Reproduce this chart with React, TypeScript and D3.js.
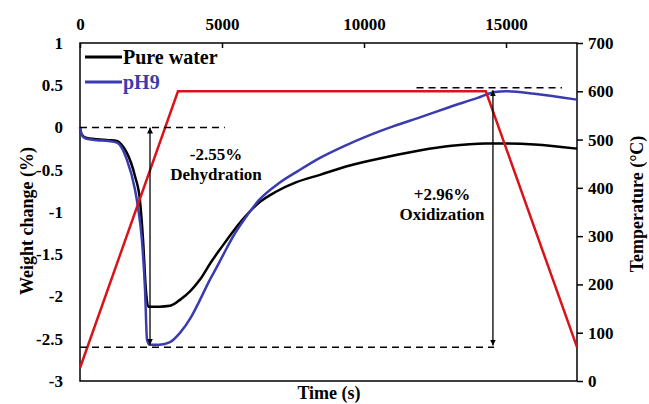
import React, { useEffect, useRef } from 'react'
import * as d3 from 'd3'

// Pure water TGA curve (time in s, weight change in %)
const pureTime = [0, 60, 200, 600, 1000, 1300, 1500, 1650, 1800, 1940, 2110, 2220, 2320, 2400, 2800, 3170, 3520, 3900, 4225, 4600, 5000, 5390, 5800, 6340, 6900, 7600, 8450, 9500, 10800, 12000, 13000, 14290, 15000, 16000, 17500]
const pureWeight = [0, -0.08, -0.12, -0.14, -0.15, -0.16, -0.22, -0.3, -0.42, -0.58, -0.86, -1.33, -1.92, -2.12, -2.12, -2.11, -2.04, -1.93, -1.8, -1.6, -1.41, -1.23, -1.06, -0.88, -0.76, -0.65, -0.56, -0.45, -0.35, -0.27, -0.22, -0.19, -0.19, -0.2, -0.25]

// pH9 curve
const ph9Time = [0, 60, 200, 600, 1000, 1300, 1650, 1940, 2040, 2180, 2290, 2360, 2440, 2800, 3170, 3520, 3900, 4225, 4500, 4820, 5100, 5390, 5800, 6300, 7000, 7700, 8450, 9300, 10200, 11000, 11970, 13000, 14000, 14600, 15000, 16000, 17500]
const ph9Weight = [0, -0.09, -0.13, -0.15, -0.16, -0.18, -0.38, -0.74, -0.94, -1.33, -1.92, -2.51, -2.57, -2.57, -2.54, -2.43, -2.25, -2.04, -1.85, -1.65, -1.47, -1.29, -1.08, -0.86, -0.66, -0.51, -0.36, -0.22, -0.09, 0.01, 0.12, 0.24, 0.35, 0.42, 0.43, 0.4, 0.33]

// temperature program
const tempTime = [0, 3450, 14290, 17500]
const tempValue = [27, 600, 600, 70]

const xTicks = [0, 5000, 10000, 15000]
const leftTicks = [1, 0.5, 0, -0.5, -1, -1.5, -2, -2.5, -3]
const rightTicks = [0, 100, 200, 300, 400, 500, 600, 700]

const seriesNames = ['Pure water', 'pH9']
const seriesColors = ['#000000', '#3b3bb0']
const tempColor = '#d8141a'

const FONT = '"Liberation Serif", "DejaVu Serif", "Times New Roman", serif'

const App = () => {
  const ref = useRef<SVGSVGElement>(null)

  useEffect(() => {
    const W = 649, H = 404
    const m = { top: 43, right: 72, bottom: 23, left: 80 }
    const svg = d3.select(ref.current)
    svg.selectAll('*').remove()

    const x = d3.scaleLinear().domain([0, 17500]).range([m.left, W - m.right])
    const yL = d3.scaleLinear().domain([-3, 1]).range([H - m.bottom, m.top])
    const yR = d3.scaleLinear().domain([0, 700]).range([H - m.bottom, m.top])

    // arrow markers
    const defs = svg.append('defs')
    defs.append('marker')
      .attr('id', 'arr')
      .attr('viewBox', '0 0 10 10')
      .attr('refX', 10).attr('refY', 5)
      .attr('markerWidth', 6).attr('markerHeight', 6)
      .attr('markerUnits', 'userSpaceOnUse')
      .attr('orient', 'auto-start-reverse')
      .append('path').attr('d', 'M0,0 L10,5 L0,10 Z').attr('fill', '#000')

    // frame
    svg.append('rect')
      .attr('x', m.left).attr('y', m.top)
      .attr('width', W - m.left - m.right).attr('height', H - m.top - m.bottom)
      .attr('fill', 'none').attr('stroke', '#000').attr('stroke-width', 1.5)

    // top x axis
    const gx = svg.append('g')
      .attr('transform', `translate(0,${m.top})`)
      .call(d3.axisTop(x).tickValues(xTicks).tickSize(-5).tickPadding(13).tickFormat(d => String(d)))
    // left axis (no tick marks)
    const gl = svg.append('g')
      .attr('transform', `translate(${m.left},0)`)
      .call(d3.axisLeft(yL).tickValues(leftTicks).tickSize(0).tickPadding(17).tickFormat(d => String(d)))
    // right axis
    const gr = svg.append('g')
      .attr('transform', `translate(${W - m.right},0)`)
      .call(d3.axisRight(yR).tickValues(rightTicks).tickSize(6).tickPadding(5).tickFormat(d => String(d)))

    ;[gx, gl, gr].forEach(g => {
      g.attr('font-family', null).attr('font-size', null)
      g.select('.domain').remove()
      g.selectAll('line').attr('stroke', '#000').attr('stroke-width', 1.5)
      g.selectAll('text')
        .style('font-family', FONT)
        .style('font-weight', 'bold')
        .style('font-size', '17px')
        .attr('fill', '#000')
    })

    // curves
    const line = d3.line<[number, number]>()
      .x(d => x(d[0])).y(d => yL(d[1]))
      .curve(d3.curveMonotoneX)

    const pure = pureTime.map((t, i) => [t, pureWeight[i]] as [number, number])
    const ph9 = ph9Time.map((t, i) => [t, ph9Weight[i]] as [number, number])

    svg.append('path').datum(pure)
      .attr('d', line).attr('fill', 'none')
      .attr('stroke', seriesColors[0]).attr('stroke-width', 2.5)
    svg.append('path').datum(ph9)
      .attr('d', line).attr('fill', 'none')
      .attr('stroke', seriesColors[1]).attr('stroke-width', 2.5)

    const tLine = d3.line<[number, number]>().x(d => x(d[0])).y(d => yR(d[1]))
    svg.append('path')
      .datum(tempTime.map((t, i) => [t, tempValue[i]] as [number, number]))
      .attr('d', tLine).attr('fill', 'none')
      .attr('stroke', tempColor).attr('stroke-width', 2.5)

    // annotations
    const dash = (t0: number, t1: number, w: number) =>
      svg.append('line')
        .attr('x1', x(t0)).attr('x2', x(t1)).attr('y1', yL(w)).attr('y2', yL(w))
        .attr('stroke', '#000').attr('stroke-width', 1.5).attr('stroke-dasharray', '7,5')
    dash(0, 5100, 0)
    dash(0, 14580, -2.6)
    dash(11850, 16970, 0.47)

    const arrow = (t: number, w0: number, w1: number) =>
      svg.append('line')
        .attr('x1', x(t)).attr('x2', x(t)).attr('y1', yL(w0)).attr('y2', yL(w1))
        .attr('stroke', '#000').attr('stroke-width', 1.3)
        .attr('marker-start', 'url(#arr)').attr('marker-end', 'url(#arr)')
    arrow(2465, 0, -2.57)
    arrow(14540, 0.44, -2.58)

    const text = (txt: string, px: number, py: number, size: number, color = '#000', anchor = 'middle') =>
      svg.append('text')
        .attr('x', px).attr('y', py)
        .style('font-family', FONT).style('font-weight', 'bold')
        .style('font-size', size + 'px').attr('text-anchor', anchor)
        .attr('fill', color).text(txt)

    text('-2.55%', 216, 160, 17)
    text('Dehydration', 216, 180, 17)
    text('+2.96%', 442, 200, 17)
    text('Oxidization', 442, 220, 17)

    // legend
    seriesNames.forEach((n, i) => {
      const ly = 57 + i * 25
      svg.append('line')
        .attr('x1', 85).attr('x2', 122).attr('y1', ly).attr('y2', ly)
        .attr('stroke', seriesColors[i]).attr('stroke-width', 3)
      text(n, 123, ly + 7, 20, seriesColors[i], 'start')
    })

    // axis titles
    text('Weight change (%)', 0, 0, 18).attr('transform', 'translate(33,221) rotate(-90)')
    text('Temperature (°C)', 0, 0, 18).attr('transform', 'translate(643,204) rotate(-90)')
    text('Time (s)', 329, 399, 18)
  }, [])

  return (
    <svg ref={ref} width={649} height={404}
      style={{ position: 'absolute', left: 0, top: 0, background: '#fff' }} />
  )
}

export default App
